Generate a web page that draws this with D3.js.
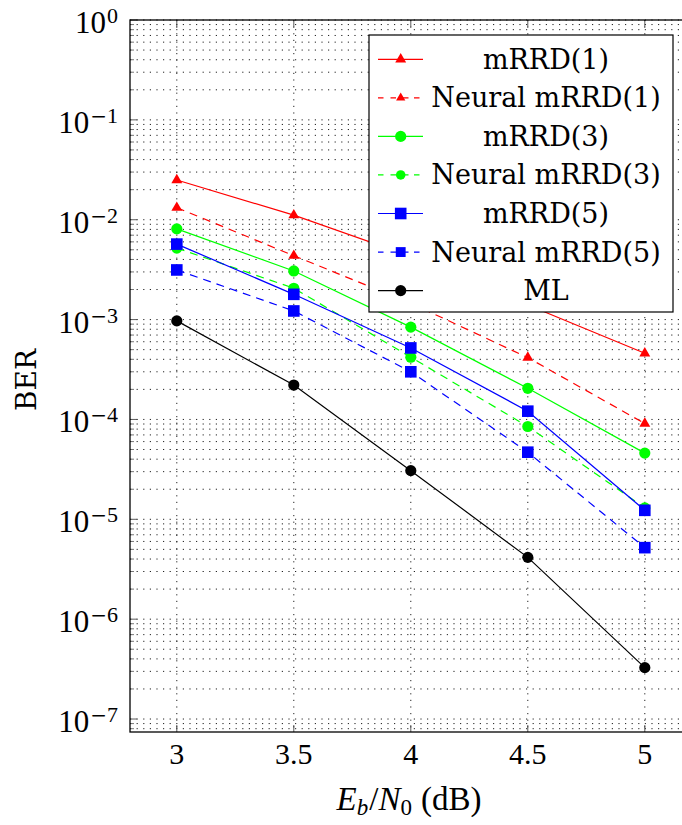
<!DOCTYPE html>
<html>
<head>
<meta charset="utf-8">
<script src="https://cdn.jsdelivr.net/npm/d3@7"></script>
<style>
  html, body { margin: 0; padding: 0; background: #fff; }
  svg { display: block; }
</style>
</head>
<body>
<svg id="chart" width="682" height="825"></svg>
<script>
// ---- data ----
const snr = [3, 3.5, 4, 4.5, 5];
const mrrd1   = [2.5e-2, 1.11e-2, 4.3e-3, 1.4e-3, 4.6e-4];
const neural1 = [1.32e-2, 4.36e-3, 1.46e-3, 4.16e-4, 9.1e-5];
const mrrd3   = [8.1e-3, 3.07e-3, 8.4e-4, 2.05e-4, 4.6e-5];
const neural3 = [5.2e-3, 2.06e-3, 4.2e-4, 8.5e-5, 1.3e-5];
const mrrd5   = [5.7e-3, 1.79e-3, 5.2e-4, 1.21e-4, 1.23e-5];
const neural5 = [3.14e-3, 1.22e-3, 3.0e-4, 4.7e-5, 5.2e-6];
const ml      = [9.7e-4, 2.21e-4, 3.07e-5, 4.16e-6, 3.27e-7];

const seriesNames = ["mRRD(1)", "Neural mRRD(1)", "mRRD(3)", "Neural mRRD(3)", "mRRD(5)", "Neural mRRD(5)", "ML"];
const seriesData  = [mrrd1, neural1, mrrd3, neural3, mrrd5, neural5, ml];
const seriesColor = ["#ff0000", "#ff0000", "#00ff00", "#00ff00", "#0000ff", "#0000ff", "#000000"];
const seriesDash  = [false, true, false, true, false, true, false];
const seriesMark  = ["triangle", "triangle", "circle", "circle", "square", "square", "circle"];

const xTicks = [3, 3.5, 4, 4.5, 5];
const xTickLabels = ["3", "3.5", "4", "4.5", "5"];
const yExps = [0, -1, -2, -3, -4, -5, -6, -7];

// ---- layout ----
const svg = d3.select("#chart");
const pLeft = 130, pTop = 20, pBottom = 732;
const x = d3.scaleLinear().domain([2.8, 5.2]).range([pLeft, pLeft + 561.6]);
const y = d3.scaleLog().domain([Math.pow(10, -7.13), 1]).range([pBottom, pTop]);
const pRight = x(5.2);

// ---- grid ----
const grid = svg.append("g");
const minorVals = [];
for (let k = -8; k <= -1; k++) {
  for (let m = 1; m <= 9; m++) {
    const v = m * Math.pow(10, k);
    if (v >= y.domain()[0] && v <= 1) minorVals.push(v);
  }
}
minorVals.push(1);
grid.selectAll("line.h").data(minorVals).enter().append("line")
  .attr("x1", pLeft).attr("x2", pRight)
  .attr("y1", d => y(d)).attr("y2", d => y(d))
  .attr("stroke", "#222").attr("stroke-width", 1)
  .attr("stroke-dasharray", "1.2,5.4");
grid.selectAll("line.v").data(xTicks).enter().append("line")
  .attr("x1", d => x(d)).attr("x2", d => x(d))
  .attr("y1", pTop).attr("y2", pBottom)
  .attr("stroke", "#222").attr("stroke-width", 1)
  .attr("stroke-dasharray", "1.2,5.4");

// ---- ticks ----
const ticks = svg.append("g");
const majorY = yExps.map(e => Math.pow(10, e));
const minorOnly = minorVals.filter(v => !majorY.some(m => Math.abs(Math.log10(m) - Math.log10(v)) < 1e-9));
ticks.selectAll("line.ym").data(minorOnly).enter().append("line")
  .attr("x1", pLeft).attr("x2", pLeft + 4)
  .attr("y1", d => y(d)).attr("y2", d => y(d))
  .attr("stroke", "#555").attr("stroke-width", 0.8);
ticks.selectAll("line.yM").data(majorY).enter().append("line")
  .attr("x1", pLeft).attr("x2", pLeft + 7)
  .attr("y1", d => y(d)).attr("y2", d => y(d))
  .attr("stroke", "#333").attr("stroke-width", 0.8);
ticks.selectAll("line.xb").data(xTicks).enter().append("line")
  .attr("x1", d => x(d)).attr("x2", d => x(d))
  .attr("y1", pBottom).attr("y2", pBottom - 7)
  .attr("stroke", "#333").attr("stroke-width", 0.8);
ticks.selectAll("line.xt").data(xTicks).enter().append("line")
  .attr("x1", d => x(d)).attr("x2", d => x(d))
  .attr("y1", pTop).attr("y2", pTop + 7)
  .attr("stroke", "#333").attr("stroke-width", 0.8);

// ---- frame ----
svg.append("rect").attr("x", pLeft).attr("y", pTop)
  .attr("width", pRight - pLeft).attr("height", pBottom - pTop)
  .attr("fill", "none").attr("stroke", "#000").attr("stroke-width", 1.3);

// ---- tick labels ----
const xl = svg.append("g").attr("font-family", "'Liberation Serif', serif").attr("font-size", 30).attr("fill", "#000");
xl.selectAll("text").data(xTicks).enter().append("text")
  .attr("x", d => x(d)).attr("y", 764).attr("text-anchor", "middle")
  .text((d, i) => xTickLabels[i]);

const yl = svg.append("g").attr("fill", "#000");
yExps.forEach(e => {
  const t = yl.append("text").attr("x", 118).attr("y", y(Math.pow(10, e)) + 13)
    .attr("text-anchor", "end").attr("font-family", "'Liberation Serif', serif").attr("font-size", 31);
  t.append("tspan").text("10");
  if (e < 0) {
    t.append("tspan").attr("dy", -10).attr("dx", 1).attr("font-family", "'DejaVu Sans', sans-serif").attr("font-size", 20).text("\u2212");
    t.append("tspan").attr("font-size", 22).text(String(-e));
  } else {
    t.append("tspan").attr("dy", -10).attr("dx", 1).attr("font-size", 22).text(String(e));
  }
});

// ---- axis titles ----
svg.append("text").attr("transform", "translate(26,380) rotate(-90)")
  .attr("text-anchor", "middle").attr("dominant-baseline", "central")
  .attr("font-family", "'DejaVu Serif', serif").attr("font-size", 28).attr("fill", "#000")
  .text("BER");

const xt = svg.append("text").attr("x", 409).attr("y", 810).attr("text-anchor", "middle")
  .attr("font-family", "'Liberation Serif', serif").attr("font-size", 33).attr("fill", "#000");
xt.append("tspan").attr("font-style", "italic").text("E");
xt.append("tspan").attr("font-style", "italic").attr("font-size", 23).attr("dy", 5).text("b");
xt.append("tspan").attr("dy", -5).attr("dx", 1).text("/");
xt.append("tspan").attr("font-style", "italic").text("N");
xt.append("tspan").attr("font-size", 23).attr("dy", 5).text("0");
xt.append("tspan").attr("dy", -5).attr("dx", 9).text("(dB)");

// ---- markers ----
function drawMarker(g, type, cx, cy, color, scale) {
  const s = scale || 1;
  if (type === "circle") {
    g.append("circle").attr("cx", cx).attr("cy", cy).attr("r", 5.6 * s).attr("fill", color);
  } else if (type === "square") {
    const h = 5.8 * s;
    g.append("rect").attr("x", cx - h).attr("y", cy - h).attr("width", 2 * h).attr("height", 2 * h).attr("fill", color);
  } else {
    const r = 6.3 * s;
    const pts = [[cx, cy - r], [cx + r * 0.866, cy + r * 0.5], [cx - r * 0.866, cy + r * 0.5]];
    g.append("path").attr("d", "M" + pts.map(p => p.join(",")).join("L") + "Z").attr("fill", color);
  }
}

// ---- series ----
const line = d3.line().x((d, i) => x(snr[i])).y(d => y(d));
const plot = svg.append("g");
seriesData.forEach((vals, si) => {
  const g = plot.append("g");
  g.append("path").attr("d", line(vals)).attr("fill", "none")
    .attr("stroke", seriesColor[si]).attr("stroke-width", 1.2)
    .attr("stroke-dasharray", seriesDash[si] ? "8,6" : null);
  vals.forEach((v, i) => drawMarker(g, seriesMark[si], x(snr[i]), y(v), seriesColor[si]));
});

// ---- legend ----
const lg = svg.append("g");
lg.append("rect").attr("x", 369).attr("y", 35).attr("width", 304).attr("height", 277)
  .attr("fill", "#fff").attr("stroke", "#000").attr("stroke-width", 1.2);
seriesNames.forEach((name, si) => {
  const cy = 59.3 + si * 38.55;
  lg.append("line").attr("x1", 378).attr("x2", 423).attr("y1", cy).attr("y2", cy)
    .attr("stroke", seriesColor[si]).attr("stroke-width", 1.2)
    .attr("stroke-dasharray", seriesDash[si] ? "5.5,7,5.5" : null);
  drawMarker(lg, seriesMark[si], 400.7, cy, seriesColor[si], seriesDash[si] ? 0.85 : 1);
  lg.append("text").attr("x", 546).attr("y", cy).attr("text-anchor", "middle")
    .attr("dominant-baseline", "central")
    .attr("font-family", "'DejaVu Serif', serif").attr("font-size", 27).attr("fill", "#000")
    .text(name);
});
</script>
</body>
</html>
